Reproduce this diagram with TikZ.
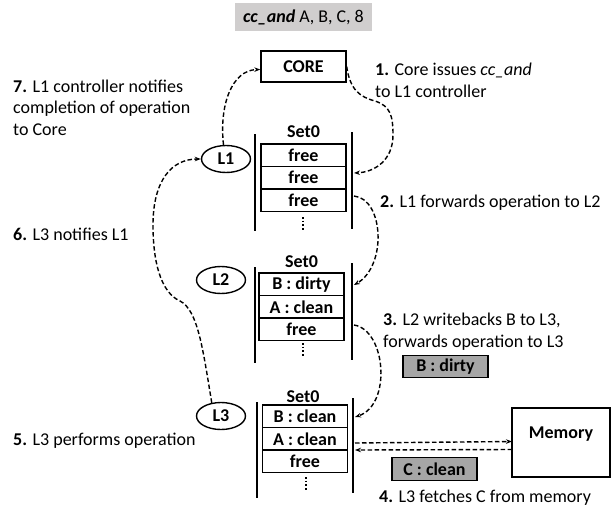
\documentclass[tikz,border=0pt]{standalone}
\usepackage{fontspec}
\setmainfont{Carlito}
\usetikzlibrary{arrows.meta,shapes.geometric}
\definecolor{topgray}{RGB}{208,206,206}
\definecolor{chipgray}{RGB}{166,166,166}
\begin{document}
\begin{tikzpicture}[x=1pt,y=-1pt,
  txt/.style={font=\fontsize{18}{21.3}\selectfont},
  box/.style={draw,line width=1.4pt,rectangle,inner sep=0pt,font=\fontsize{18}{21.3}\selectfont\bfseries},
  cell/.style={box,minimum width=85pt,minimum height=22.5pt},
  chip/.style={box,fill=chipgray,minimum width=85pt,minimum height=22.5pt},
  ctrl/.style={draw,ellipse,line width=1.4pt,minimum width=49pt,minimum height=27pt,inner sep=0pt,font=\fontsize{18}{21.3}\selectfont\bfseries},
  setlabel/.style={inner sep=0pt,font=\fontsize{18}{21.3}\selectfont\bfseries},
  bar/.style={line width=2.6pt},
  vdots/.style={line width=1.6pt,dash pattern=on 1.5pt off 2.2pt},
  flow/.style={line width=1.4pt,dash pattern=on 4.5pt off 2.5pt},
  arr/.style={flow,-{Stealth[length=6pt,width=4.5pt]}},
  note/.style={txt,anchor=base west,inner sep=0pt,align=left}
]
\useasboundingbox (0,0) rectangle (614,507);

% operation banner
\node[txt,fill=topgray,minimum width=137pt,minimum height=28pt,inner sep=0pt] (op) at (303.5,17) {\textbf{\textit{cc\_and}} A, B, C, 8};

% core
\node[box,minimum width=85pt,minimum height=31pt] (core) at (303.5,66.5) {CORE};

% controllers
\node[ctrl] (l1) at (226,159) {L1};
\node[ctrl] (l2) at (221,280) {L2};
\node[ctrl] (l3) at (221,416) {L3};

% L1 set
\node[setlabel] (s1) at (303.5,132) {Set0};
\node[cell] (a1) at (303.5,155.25) {free};
\node[cell] (a2) at (303.5,177.75) {free};
\node[cell] (a3) at (303.5,200.25) {free};
\draw[vdots] (303,217) -- (303,231);
\draw[bar] (255,134) -- (255,231);
\draw[bar] (352,132) -- (352,229);

% L2 set
\node[setlabel] (s2) at (301.5,262) {Set0};
\node[cell] (b1) at (301.5,284.25) {B : dirty};
\node[cell] (b2) at (301.5,306.75) {A : clean};
\node[cell] (b3) at (301.5,329.25) {free};
\draw[vdots] (303,343) -- (303,357);
\draw[bar] (255,267) -- (255,363);
\draw[bar] (352,263) -- (352,360);

% L3 set
\node[setlabel] (s3) at (303,397) {Set0};
\node[cell] (c1) at (305,416.25) {B : clean};
\node[cell] (c2) at (305,438.75) {A : clean};
\node[cell] (c3) at (305,461.25) {free};
\draw[vdots] (306,477) -- (306,491);
\draw[bar] (257,402) -- (257,498);
\draw[bar] (353,398) -- (353,493);

% memory and moving lines
\node[box,minimum width=98pt,minimum height=69pt,text height=13pt,text depth=22pt] (mem) at (561,442.5) {Memory};
\node[chip] (bd) at (445.5,366.5) {B : dirty};
\node[chip] (cc) at (434.5,469) {C : clean};

% connector end points on the set bars
\coordinate (l1in) at (354,173);
\coordinate (l1out) at (354,196);
\coordinate (l2in) at (354,285);
\coordinate (l2out) at (354,325);
\coordinate (l3in) at (355,417);
\coordinate (l3a) at (355,443);
\coordinate (l3b) at (355,450);
\coordinate (mema) at (512,441.5);
\coordinate (memb) at (512,449.5);

% step 1: core -> L1
\draw[arr] (core.east) .. controls (350,90) and (360,97) .. (375,101)
  .. controls (390,106) and (393,115) .. (393,135)
  .. controls (393,160) and (375,172) .. (l1in);
% step 2: L1 -> L2
\draw[arr] (l1out) .. controls (384,199) and (387,266) .. (l2in);
% step 3: L2 -> L3
\draw[arr] (l2out) .. controls (386,330) and (392,405) .. (l3in);
% step 4: L3 <-> memory
\draw[arr] (l3a) -- (mema);
\draw[arr] (memb) -- (l3b);
% step 6: L3 -> L1
\draw[arr] (l3.125) .. controls (203,350) and (198,310) .. (180,301)
  .. controls (160,292) and (153,260) .. (153,225)
  .. controls (153,180) and (172,159) .. (l1.west);
% step 7: L1 -> core
\draw[arr] (l1.100) .. controls (219,105) and (232,70) .. ([yshift=-3pt]core.west);

% notes (base anchor = baseline of the last line)
\node[note] (n1) at (375,97) {\textbf{1.} Core issues \textit{cc\_and}\\to L1 controller};
\node[note] (n2) at (380,207) {\textbf{2.} L1 forwards operation to L2};
\node[note] (n3) at (383,347) {\textbf{3.} L2 writebacks B to L3,\\forwards operation to L3};
\node[note] (n4) at (379,502) {\textbf{4.} L3 fetches C from memory};
\node[note] (n5) at (13,445) {\textbf{5.} L3 performs operation};
\node[note] (n6) at (13,240) {\textbf{6.} L3 notifies L1};
\node[note] (n7) at (13,135) {\textbf{7.} L1 controller notifies\\completion of operation\\to Core};
\end{tikzpicture}
\end{document}
